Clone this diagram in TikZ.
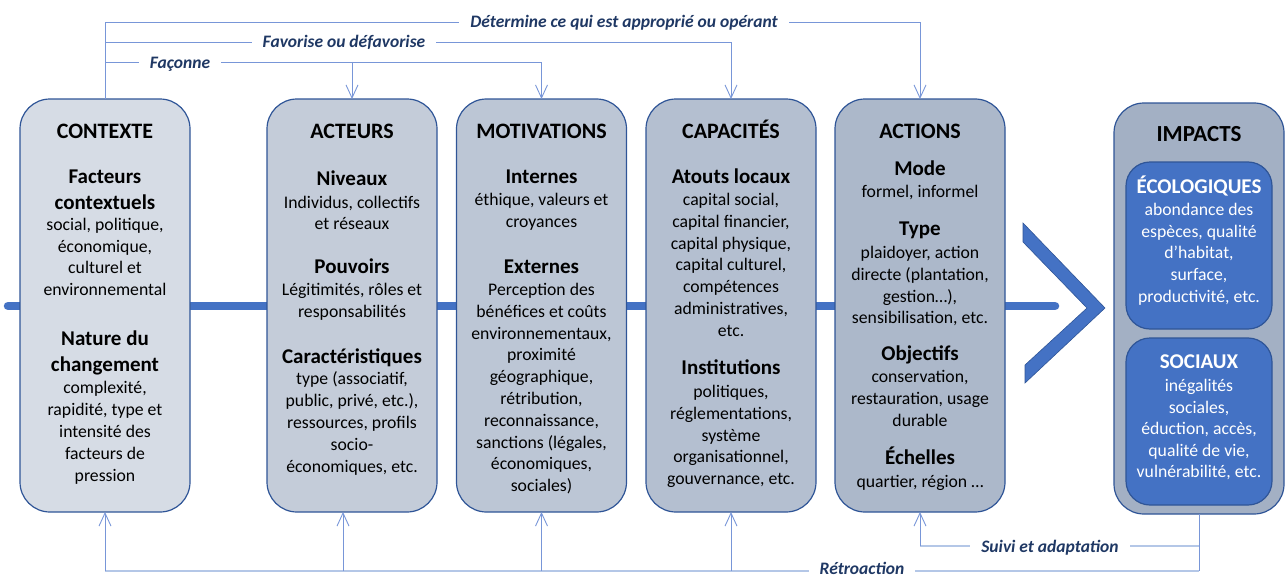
\documentclass[tikz,border=0pt]{standalone}
\usepackage{fontspec}
\setmainfont{Carlito}
\usetikzlibrary{arrows.meta}
\definecolor{bord}{HTML}{2F5597}
\definecolor{acc}{HTML}{4472C4}
\definecolor{cA}{HTML}{D6DCE5}
\definecolor{cB}{HTML}{C4CCD9}
\definecolor{cC}{HTML}{BCC6D5}
\definecolor{cD}{HTML}{B4BFD0}
\definecolor{cE}{HTML}{ACB8CA}
\definecolor{cF}{HTML}{A3B0C4}
\definecolor{connc}{HTML}{7896D8}
\definecolor{lconn}{HTML}{B4C7E7}
\definecolor{navy}{HTML}{1F3864}
\newcommand\txtlines[6]{\foreach \t [count=\i from 0] in {#6}{\node[#5] (#1\i) at (#2,{#3+\i*#4}) {\t};}}
\begin{document}
\begin{tikzpicture}[x=1pt,y=-1pt,
 box/.style={draw=bord, line width=1.2pt, rounded corners=30pt, minimum width=170pt, minimum height=413pt, outer sep=0pt, inner sep=0pt},
 ibox/.style={draw=bord, line width=1.2pt, fill=acc, rounded corners=24pt, minimum width=146pt, minimum height=167pt, outer sep=0pt, inner sep=0pt},
 ttl/.style={font=\fontsize{22}{26}\selectfont\bfseries, anchor=base, inner sep=0pt},
 hd/.style={font=\fontsize{21}{26}\selectfont\bfseries, anchor=base, inner sep=0pt},
 bd/.style={font=\fontsize{17.7}{21.7}\selectfont, anchor=base, inner sep=0pt},
 lbl/.style={font=\fontsize{17.5}{21}\selectfont\bfseries\itshape, text=navy, fill=white, inner xsep=11pt, inner ysep=2pt, anchor=base},
 conn/.style={draw=connc, line width=0.9pt},
 arr/.style={conn, -{Straight Barb[length=13pt,width=12pt,line width=0.9pt]}},
 fb/.style={draw=lconn, line width=2.4pt},
]
\useasboundingbox (0,0) rectangle (1287,578);
% main axis
\coordinate (ms) at (8,306);
\coordinate (me) at (1055,306);
\draw[acc, line width=8.5pt, line cap=round] (ms) -- (me);
\fill[acc, draw=bord, line width=0.6pt] (1023,223) -- (1105,308) -- (1025,383) -- (1025,365) -- (1087,308) -- (1023,242) -- cycle;
% boxes
\node[box, fill=cA] (ctx) at (105,305.5) {};
\node[box, fill=cB] (act) at (352,305.5) {};
\node[box, fill=cC] (mot) at (541.5,305.5) {};
\node[box, fill=cD] (cap) at (731,305.5) {};
\node[box, fill=cE] (acn) at (920,305.5) {};
\node[box, fill=cF, minimum height=411pt] (imp) at (1199,308.5) {};
\node[ibox] (eco) at (1199,245.5) {};
\node[ibox] (soc) at (1199,421.5) {};
% CONTEXTE
\node[ttl] (ctxT) at (105,138) {CONTEXTE};
\txtlines{ctxh}{105}{183.5}{26}{hd}{Facteurs,contextuels}
\txtlines{ctxb}{105}{230.5}{21.7}{bd}{{social, politique,},{économique,},{culturel et},environnemental}
\txtlines{ctxk}{105}{345.5}{26}{hd}{{Nature du},changement}
\txtlines{ctxc}{105}{393.5}{22}{bd}{{complexité,},{rapidité, type et},{intensité des},{facteurs de},pression}
% ACTEURS
\node[ttl] (actT) at (352,138) {ACTEURS};
\node[hd] (acth) at (352,185.5) {Niveaux};
\txtlines{actb}{352}{208.5}{21}{bd}{{Individus, collectifs},{et réseaux}}
\node[hd] (actp) at (352,273.5) {Pouvoirs};
\txtlines{actc}{352}{295.5}{22}{bd}{{Légitimités, rôles et},responsabilités}
\node[hd] (actk) at (352,363.5) {Caractéristiques};
\txtlines{actd}{352}{384.5}{22}{bd}{{type (associatif,},{public, privé, etc.),},{ressources, profils},{socio-},{économiques, etc.}}
% MOTIVATIONS
\node[ttl] (motT) at (541.5,138) {MOTIVATIONS};
\node[hd] (moth) at (541.5,183.5) {Internes};
\txtlines{motb}{541.5}{205.5}{22}{bd}{{éthique, valeurs et},croyances}
\node[hd] (motk) at (541.5,273.5) {Externes};
\txtlines{motc}{541.5}{295.5}{21.8}{bd}{{Perception des},{bénéfices et coûts},{environnementaux,},proximité,{géographique,},{rétribution,},{reconnaissance,},{sanctions (légales,},{économiques,},{sociales)}}
% CAPACITES
\node[ttl] (capT) at (731,138) {CAPACITÉS};
\node[hd] (caph) at (731,183.5) {Atouts locaux};
\txtlines{capb}{731}{205.5}{21.8}{bd}{{capital social,},{capital financier,},{capital physique,},{capital culturel,},compétences,{administratives,},etc.}
\node[hd] (capk) at (731,374.5) {Institutions};
\txtlines{capc}{731}{397.5}{21.8}{bd}{{politiques,},{réglementations,},système,{organisationnel,},{gouvernance, etc.}}
% ACTIONS
\node[ttl] (acnT) at (920,138) {ACTIONS};
\node[hd] (acnh) at (920,175.5) {Mode};
\node[bd] (acnb) at (920,197.5) {formel, informel};
\node[hd] (acnk) at (920,235.5) {Type};
\txtlines{acnc}{920}{258.5}{21.8}{bd}{{plaidoyer, action},{directe (plantation,},{gestion…),},{sensibilisation, etc.}}
\node[hd] (acno) at (920,360.5) {Objectifs};
\txtlines{acnd}{920}{382.5}{22}{bd}{{conservation,},{restauration, usage},durable}
\node[hd] (acne) at (920,464.5) {Échelles};
\node[bd] (acnf) at (920,487.5) {quartier, région …};
% IMPACTS
\node[ttl, font=\fontsize{23}{27}\selectfont\bfseries] (impT) at (1199,141.5) {IMPACTS};
\node[hd, text=white] (ecoh) at (1199,193.5) {ÉCOLOGIQUES};
\txtlines{ecob}{1199}{215.5}{21.7}{bd, text=white}{{abondance des},{espèces, qualité},{d’habitat,},{surface,},{productivité, etc.}}
\node[hd, text=white] (soch) at (1199,368.5) {SOCIAUX};
\txtlines{socb}{1199}{391.5}{21.6}{bd, text=white}{{inégalités},{sociales,},{éduction, accès,},{qualité de vie,},{vulnérabilité, etc.}}
% top connectors
\coordinate (yD) at (0,22);
\coordinate (yF) at (0,42);
\coordinate (yC) at (0,62);
\coordinate (yS) at (0,546);
\coordinate (yR) at (0,571);
\draw[arr] (ctx.north) -- (ctx.north |- yD) -| (acn.north);
\draw[arr] (ctx.north |- yF) -| (cap.north);
\draw[arr] (ctx.north |- yC) -| (mot.north);
\draw[arr] (act.north |- yC) -- (act.north);
\node[lbl] (lD) at (624,28) {Détermine ce qui est approprié ou opérant};
\node[lbl] (lF) at (344,48) {Favorise ou défavorise};
\node[lbl] (lC) at (180,68) {Façonne};
% bottom connectors
\coordinate (actb) at ([xshift=-9pt]act.south);
\draw[fb] (ctx.south |- yR) -- (imp.south |- yR);
\draw[conn] (imp.south) -- (imp.south |- yR);
\draw[fb] (acn.south |- yS) -- (imp.south |- yS);
\draw[arr] (ctx.south |- yR) -- (ctx.south);
\draw[arr] (actb |- yR) -- (actb);
\draw[arr] (mot.south |- yR) -- (mot.south);
\draw[arr] (cap.south |- yR) -- (cap.south);
\draw[arr] (acn.south |- yS) -- (acn.south);
\node[lbl, inner ysep=1pt] (lS) at (1050,552) {Suivi et adaptation};
\node[lbl, inner ysep=0pt, outer sep=0pt] (lR) at (862,574) {Rétroaction};
\end{tikzpicture}
\end{document}
